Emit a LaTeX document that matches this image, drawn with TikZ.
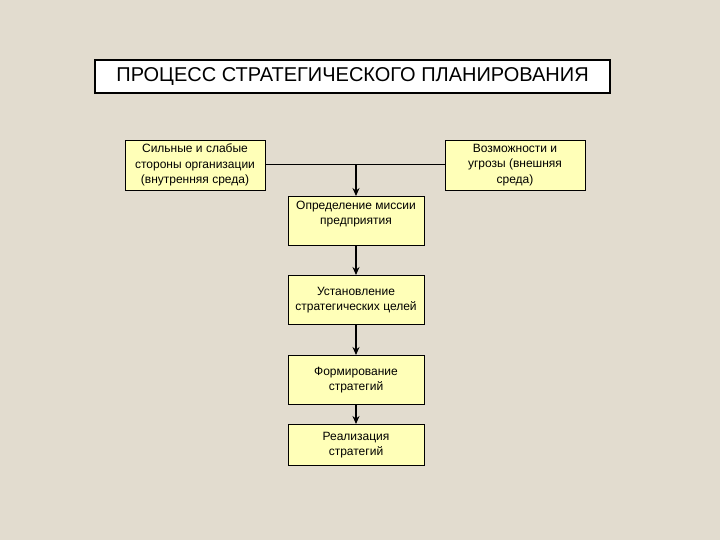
\documentclass[tikz,border=0pt]{standalone}
\usepackage{fontspec}
\setmainfont{Liberation Sans}
\usetikzlibrary{arrows.meta}
\definecolor{bg}{HTML}{E2DCCF}
\definecolor{boxy}{HTML}{FFFFB8}
\begin{document}
\begin{tikzpicture}[x=1pt,y=1pt,
  bx/.style={draw=black,fill=boxy,line width=0.8pt,minimum width=136pt,minimum height=49pt,align=center,font=\fontsize{12}{15.5}\selectfont,inner sep=1pt},
  sbx/.style={bx,minimum width=140pt,minimum height=50pt},
  conn/.style={line width=1.3pt},
  arr/.style={conn,-{Stealth[length=8pt,width=7pt]}}]
\fill[bg] (0,0) rectangle (720,-540);
\useasboundingbox (0,0) rectangle (720,-540);
\node[draw=black,fill=white,line width=1.2pt,minimum width=515pt,minimum height=33pt,font=\fontsize{20}{22}\selectfont] (t) at (352.5,-76.5) {ПРОЦЕСС СТРАТЕГИЧЕСКОГО ПЛАНИРОВАНИЯ};
\node[sbx] (l) at (195,-165) {Сильные и слабые\\стороны организации\\(внутренняя среда)};
\node[sbx] (r) at (515,-165) {Возможности и\\угрозы (внешняя\\среда)};
\node[bx,anchor=north] (m) at (356,-196) {Определение миссии\\предприятия\\[-4pt]\strut};
\node[bx,anchor=north] (g) at (356,-275) {Установление\\стратегических целей};
\node[bx,anchor=north] (s) at (356,-355) {Формирование\\стратегий};
\node[bx,anchor=north,minimum height=41pt] (i) at (356,-424) {Реализация\\стратегий};
\coordinate (j) at (356,-165);
\draw[line width=1pt] (l.east) -- (r.west);
\draw[arr] (j) -- (m.north);
\draw[arr] (m) -- (g);
\draw[arr] (g) -- (s);
\draw[arr] (s) -- (i);
\end{tikzpicture}
\end{document}
